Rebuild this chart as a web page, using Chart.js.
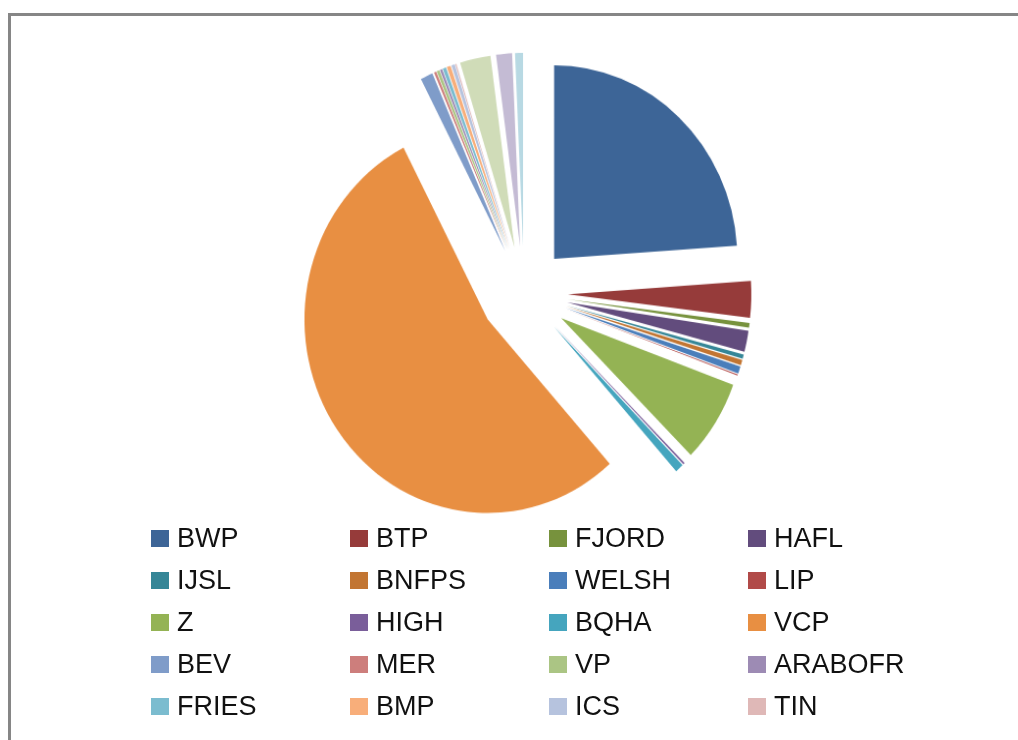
<!DOCTYPE html>
<html lang="en">
<head>
  <meta charset="UTF-8">
  <title>Breed share pie</title>
  <style>
    body {
      margin: 0;
      background: #fff;
      font-family: 'Liberation Sans', Arial, sans-serif;
    }
    .frame {
      position: absolute;
      left: 8px;
      top: 13px;
      width: 1010px;
      height: 727px;
      border-left: 3px solid #868686;
      border-top: 3px solid #868686;
      box-sizing: border-box;
    }
    .chart-box {
      position: absolute;
      left: 30px;
      top: 0;
      width: 988px;
      height: 586px;
      /* the original pie is a touch taller than wide */
      transform: scale(0.98, 1.035);
      transform-origin: 494px 293px;
    }
    #legend {
      position: absolute;
      left: 151px;
      top: 518px;
      display: grid;
      grid-template-columns: repeat(4, 199px);
      grid-auto-rows: 41.8px;
    }
    .item {
      display: flex;
      align-items: center;
      font-size: 27px;
      color: #111;
    }
    .swatch {
      width: 18px;
      height: 17px;
      margin-right: 8px;
    }
  </style>
  <script src="https://cdn.jsdelivr.net/npm/chart.js"></script>
</head>
<body>
  <div class="frame"></div>
  <div class="chart-box">
    <canvas id="chart"></canvas>
  </div>
  <div id="legend"></div>

  <script>
    // breeds, clockwise from 12 o'clock (the last three are not in the legend)
    const breeds = ['BWP', 'BTP', 'FJORD', 'HAFL', 'IJSL', 'BNFPS', 'WELSH', 'LIP',
      'Z', 'HIGH', 'BQHA', 'VCP', 'BEV', 'MER', 'VP', 'ARABOFR',
      'FRIES', 'BMP', 'ICS', 'TIN', 'OTHER21', 'OTHER22', 'OTHER23'];

    // share in percent
    const shares = [23.9, 3.05, 0.4, 1.75, 0.35, 0.45, 0.6, 0.1,
      6.9, 0.15, 0.75, 54.0, 1.1, 0.2, 0.25, 0.2,
      0.3, 0.35, 0.3, 0.1, 2.7, 1.4, 0.7];

    const colors = ['#3d6597', '#963b3a', '#77923d', '#624c7d', '#358697', '#c27532', '#4a7ebb', '#b14a48',
      '#94b354', '#7a5e9a', '#45a5be', '#e88f42', '#7f9cc9', '#cd7e7c', '#abc584', '#9d8bb4',
      '#7bbccf', '#f8ae7a', '#b6c3de', '#dfb8b7', '#d0dcb8', '#c4bbd4', '#b8d9e3'];

    const legendCount = 20;
    const PIE_RADIUS = 187;
    const EXPLODE = 45;

    // Chart.js' own offset trims thin slices away, so push every
    // arc out by the same distance ourselves before drawing it
    const explodePlugin = {
      id: 'explode',
      beforeDatasetDraw(chart, args) {
        const c = chart.ctx;
        args.meta.data.forEach((arc) => {
          const mid = (arc.startAngle + arc.endAngle) / 2;
          c.save();
          c.translate(Math.cos(mid) * EXPLODE, Math.sin(mid) * EXPLODE);
          arc.draw(c);
          c.restore();
        });
        return false;
      }
    };

    const ctx = document.getElementById('chart').getContext('2d');
    const chart = new Chart(ctx, {
      type: 'pie',
      data: {
        labels: breeds,
        datasets: [{
          data: shares,
          backgroundColor: colors,
          borderWidth: 0
        }]
      },
      options: {
        responsive: true,
        maintainAspectRatio: false,
        animation: false,
        radius: PIE_RADIUS,
        layout: { padding: 0 },
        plugins: {
          legend: { display: false },
          tooltip: { enabled: false }
        }
      },
      plugins: [explodePlugin]
    });

    // legend grid, first 20 breeds only
    const legend = document.getElementById('legend');
    breeds.slice(0, legendCount).forEach((name, i) => {
      const item = document.createElement('div');
      item.className = 'item';
      const sw = document.createElement('span');
      sw.className = 'swatch';
      sw.style.background = colors[i];
      const txt = document.createElement('span');
      txt.textContent = name;
      item.appendChild(sw);
      item.appendChild(txt);
      legend.appendChild(item);
    });
  </script>
</body>
</html>
